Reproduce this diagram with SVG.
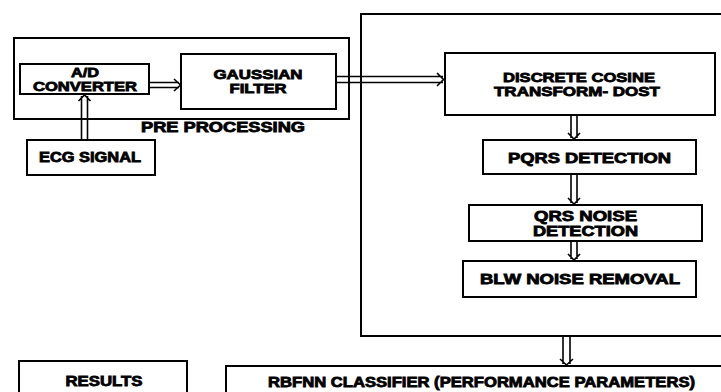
<svg xmlns="http://www.w3.org/2000/svg" width="721" height="392" viewBox="0 0 721 392">
  <style>
    .box { fill: none; stroke: #000; stroke-width: 2; }
    .lbl { font-family: "Liberation Sans", Arial, sans-serif; font-weight: bold; font-size: 14px; fill: #000; stroke: #000; stroke-width: 0.8; text-anchor: middle; }
    .sm { font-size: 13px; }
    .arr { fill: none; stroke: #000; stroke-width: 1.6; stroke-linejoin: miter; }
  </style>
  <rect width="721" height="392" fill="#fff"/>

  <!-- pre-processing stage -->
  <g id="preprocessing">
    <rect class="box" x="14" y="38" width="335" height="81"/>
    <text class="lbl" x="223" y="132" textLength="164" lengthAdjust="spacingAndGlyphs">PRE PROCESSING</text>
  </g>
  <g id="ad-converter">
    <rect class="box" x="20" y="64" width="129" height="30"/>
    <text class="lbl sm" x="85" y="76.5" textLength="28" lengthAdjust="spacingAndGlyphs">A/D</text>
    <text class="lbl sm" x="85" y="90.5" textLength="104" lengthAdjust="spacingAndGlyphs">CONVERTER</text>
  </g>
  <g id="gaussian-filter">
    <rect class="box" x="181" y="54" width="155" height="55"/>
    <text class="lbl sm" x="258" y="79" textLength="89" lengthAdjust="spacingAndGlyphs">GAUSSIAN</text>
    <text class="lbl sm" x="258" y="93" textLength="57" lengthAdjust="spacingAndGlyphs">FILTER</text>
  </g>
  <g id="ecg-signal">
    <rect class="box" x="27" y="140" width="128" height="35"/>
    <text class="lbl" x="90" y="162" textLength="102" lengthAdjust="spacingAndGlyphs">ECG SIGNAL</text>
  </g>

  <!-- feature extraction stage -->
  <g id="extraction">
    <rect class="box" x="361" y="14" width="380" height="322"/>
  </g>
  <g id="dct-dost">
    <rect class="box" x="445" y="53" width="270" height="62"/>
    <text class="lbl sm" x="579" y="82" textLength="152" lengthAdjust="spacingAndGlyphs">DISCRETE COSINE</text>
    <text class="lbl sm" x="577" y="96" textLength="166" lengthAdjust="spacingAndGlyphs">TRANSFORM- DOST</text>
  </g>
  <g id="pqrs-detection">
    <rect class="box" x="483" y="140" width="213" height="34"/>
    <text class="lbl" x="589.5" y="163" textLength="163" lengthAdjust="spacingAndGlyphs">PQRS DETECTION</text>
  </g>
  <g id="qrs-noise-detection">
    <rect class="box" x="469" y="205" width="233" height="36"/>
    <text class="lbl" x="585.5" y="221" textLength="103" lengthAdjust="spacingAndGlyphs">QRS NOISE</text>
    <text class="lbl" x="585.5" y="236" textLength="105" lengthAdjust="spacingAndGlyphs">DETECTION</text>
  </g>
  <g id="blw-noise-removal">
    <rect class="box" x="463" y="261" width="233" height="36"/>
    <text class="lbl" x="580" y="284" textLength="200" lengthAdjust="spacingAndGlyphs">BLW NOISE REMOVAL</text>
  </g>

  <!-- output stage -->
  <g id="results">
    <rect class="box" x="19" y="361" width="168" height="40"/>
    <text class="lbl" x="104" y="386" textLength="77" lengthAdjust="spacingAndGlyphs">RESULTS</text>
  </g>
  <g id="rbfnn-classifier">
    <rect class="box" x="226" y="366" width="510" height="40"/>
    <text class="lbl" x="481.5" y="387" textLength="427" lengthAdjust="spacingAndGlyphs">RBFNN CLASSIFIER (PERFORMANCE PARAMETERS)</text>
  </g>

  <!-- double-line block arrows -->
  <g id="connectors">
    <!-- A/D converter to Gaussian filter -->
    <path class="arr" d="M150 82.5 H179 M150 87.5 H179 M174 79 L180.5 85 L174 91"/>
    <!-- ECG signal up to A/D converter -->
    <path class="arr" d="M81.5 139 V96 M87.5 139 V96 M78.5 101 L84.5 95 L90.5 101"/>
    <!-- Gaussian filter to DCT-DOST -->
    <path class="arr" d="M337 76.5 H443 M337 82.5 H443 M437 73 L443.5 79.5 L437 86"/>
    <!-- DCT-DOST to PQRS detection -->
    <path class="arr" d="M571 116 V138 M577 116 V138 M568 133 L574 139 L580 133"/>
    <!-- PQRS detection to QRS noise detection -->
    <path class="arr" d="M571 175 V203 M577 175 V203 M568 198 L574 204 L580 198"/>
    <!-- QRS noise detection to BLW noise removal -->
    <path class="arr" d="M571 242 V259 M577 242 V259 M568 254 L574 260 L580 254"/>
    <!-- extraction stage to classifier -->
    <path class="arr" d="M563 337 V364 M570 337 V364 M560 359 L566.5 365 L573 359"/>
  </g>
</svg>
